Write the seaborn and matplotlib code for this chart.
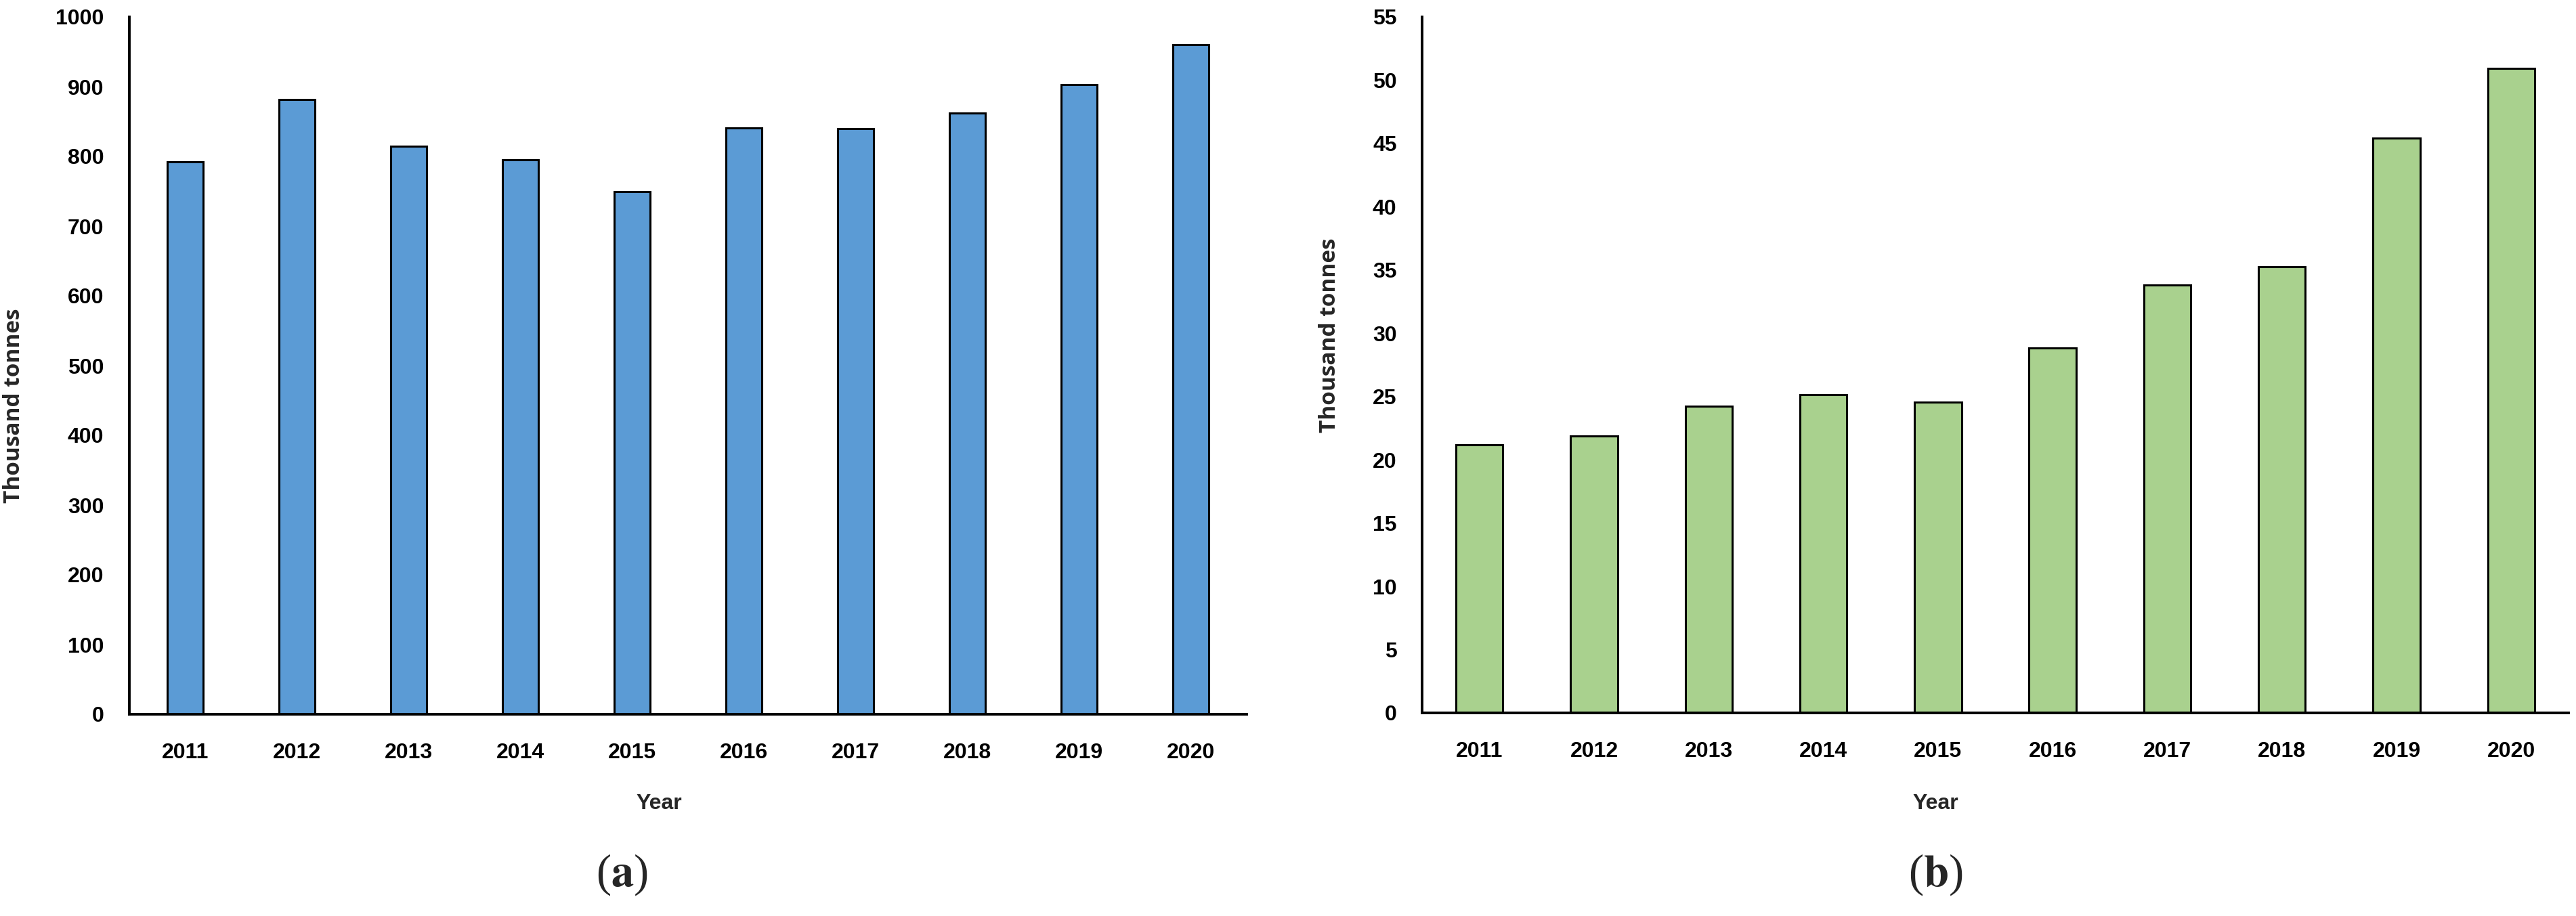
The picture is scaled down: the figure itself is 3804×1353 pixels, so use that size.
import matplotlib
matplotlib.use("Agg")
import matplotlib.pyplot as plt
import seaborn as sns
from matplotlib.ticker import FixedLocator, MultipleLocator

# data
years = ["2011", "2012", "2013", "2014", "2015", "2016", "2017", "2018", "2019", "2020"]
left_values = [792, 882, 815, 795, 750, 841, 840, 862, 903, 960]
right_values = [21.2, 21.9, 24.25, 25.15, 24.55, 28.85, 33.8, 35.25, 45.4, 50.95]

sns.set_theme(style="white")
plt.rcParams["font.family"] = ["Liberation Sans", "DejaVu Sans"]
plt.rcParams["font.weight"] = "bold"
plt.rcParams["mathtext.fontset"] = "stix"

W, H = 3804, 1353
fig = plt.figure(figsize=(W / 100, H / 100), dpi=100)


def px_axes(x0, x1, y_top, y_bot):
    return [x0 / W, 1 - y_bot / H, (x1 - x0) / W, (y_bot - y_top) / H]


ax1 = fig.add_axes(px_axes(191, 1841, 25, 1055))
ax2 = fig.add_axes(px_axes(2100, 3793, 25, 1053))

panels = [
    (ax1, left_values, "#5B9BD5", 0.325, 1000, 100),
    (ax2, right_values, "#A9D18E", 0.41, 55, 5),
]

for ax, vals, col, bw, ymax, step in panels:
    sns.barplot(x=years, y=vals, color=col, saturation=1, width=bw,
                edgecolor="black", linewidth=2.2, ax=ax)
    ax.set_xlim(-0.5, 9.5)
    ax.set_ylim(0, ymax)
    ax.yaxis.set_major_locator(MultipleLocator(step))
    ax.xaxis.set_minor_locator(FixedLocator([i - 0.5 for i in range(11)]))
    for s in ["top", "right"]:
        ax.spines[s].set_visible(False)
    for s in ["left", "bottom"]:
        ax.spines[s].set_linewidth(2.8)
        ax.spines[s].set_color("black")
    ax.tick_params(axis="y", direction="in", length=9, width=2.4,
                   labelsize=23, pad=27, colors="black")
    ax.tick_params(axis="x", which="major", length=0, labelsize=23, pad=30,
                   colors="black")
    ax.tick_params(axis="x", which="minor", direction="out", length=9,
                   width=2.4, color="black")
    ax.set_xlabel("")
    ax.set_ylabel("")
    ax.grid(False)

# axis titles
ylab = dict(rotation=90, ha="center", va="center", fontsize=24,
            fontweight="bold", family=["Open Sans", "DejaVu Sans"])
fig.text(21 / W, 1 - 599 / H, "Thousand tonnes", **ylab)
fig.text(1963 / W, 1 - 495 / H, "Thousand tonnes", **ylab)

fig.text(973 / W, 1 - 1187 / H, "Year", ha="center", va="center",
         fontsize=23, fontweight="bold")
fig.text(2858 / W, 1 - 1187 / H, "Year", ha="center", va="center",
         fontsize=23, fontweight="bold")

# panel letters
cap = dict(ha="center", va="center", fontsize=48, fontweight="normal",
           family=["Liberation Serif", "DejaVu Serif"])
fig.text(918 / W, 1 - 1292 / H, r"($\mathbf{a}$)", **cap)
fig.text(2858 / W, 1 - 1292 / H, r"($\mathbf{b}$)", **cap)

fig.savefig("out.png", dpi=100, facecolor="white")
